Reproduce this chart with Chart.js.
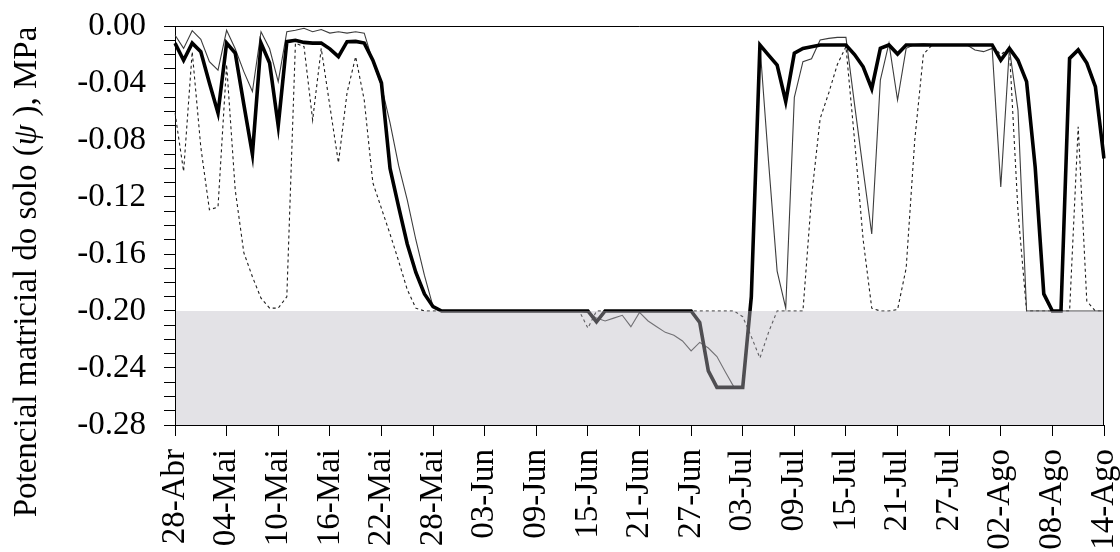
<!DOCTYPE html>
<html>
<head>
<meta charset="utf-8">
<script src="https://cdn.jsdelivr.net/npm/chart.js@4.4.1/dist/chart.umd.min.js"></script>
<style>
html,body{margin:0;padding:0;background:#fff;}
#wrap{width:1120px;height:552px;position:relative;}
</style>
</head>
<body>
<div id="wrap"><canvas id="c"></canvas></div>
<script>
// ── DATA ──
const MONTHS = ['Jan','Fev','Mar','Abr','Mai','Jun','Jul','Ago','Set','Out','Nov','Dez'];
const START = [2011, 3, 28];      // 28-Abr
const N_DAYS = 109;               // 28-Abr .. 14-Ago
const TICK_EVERY = 6;
const Y_LABELS = [0, -0.04, -0.08, -0.12, -0.16, -0.20, -0.24, -0.28];
const LIMIT = -0.20, Y_MIN = -0.28, Y_MAX = 0;

const days = [];
for (let i = 0; i < N_DAYS; i++) {
  const d = new Date(START[0], START[1], START[2] + i);
  days.push(String(d.getDate()).padStart(2,'0') + '-' + MONTHS[d.getMonth()]);
}

// thick line
const psiA = [
 -0.012,-0.024,-0.012,-0.018,-0.040,-0.061,-0.012,-0.019,-0.055,-0.090,
 -0.012,-0.026,-0.070,-0.011,-0.010,-0.0115,-0.012,-0.012,-0.016,-0.0215,
 -0.011,-0.0108,-0.012,-0.024,-0.040,-0.100,-0.127,-0.153,-0.173,-0.188,
 -0.197,-0.20,-0.20,-0.20,-0.20,-0.20,-0.20,-0.20,-0.20,-0.20,
 -0.20,-0.20,-0.20,-0.20,-0.20,-0.20,-0.20,-0.20,-0.20,-0.2076,
 -0.20,-0.20,-0.20,-0.20,-0.20,-0.20,-0.20,-0.20,-0.20,-0.20,
 -0.20,-0.208,-0.242,-0.2536,-0.2536,-0.2536,-0.2536,-0.19,-0.0133,-0.0204,
 -0.0274,-0.053,-0.019,-0.0157,-0.0145,-0.0133,-0.0133,-0.0133,-0.0133,-0.020,
 -0.0286,-0.044,-0.0157,-0.0133,-0.0197,-0.0133,-0.0133,-0.0133,-0.0133,-0.0133,
 -0.0133,-0.0133,-0.0133,-0.0133,-0.0133,-0.0133,-0.024,-0.0157,-0.024,-0.039,
 -0.099,-0.188,-0.20,-0.20,-0.0227,-0.0168,-0.026,-0.0426,-0.093
];
// thin solid line
const psiB = [
 -0.0063,-0.0157,-0.0033,-0.0094,-0.025,-0.031,-0.003,-0.016,-0.032,-0.046,
 -0.004,-0.016,-0.039,-0.004,-0.003,-0.0016,-0.004,-0.0025,-0.005,-0.004,
 -0.005,-0.004,-0.005,-0.025,-0.042,-0.068,-0.098,-0.122,-0.150,-0.175,
 -0.197,-0.20,-0.20,-0.20,-0.20,-0.20,-0.20,-0.20,-0.20,-0.20,
 -0.20,-0.20,-0.20,-0.20,-0.20,-0.20,-0.20,-0.20,-0.201,-0.205,
 -0.207,-0.205,-0.203,-0.211,-0.201,-0.207,-0.211,-0.215,-0.217,-0.221,
 -0.228,-0.222,-0.226,-0.232,-0.243,-0.2536,-0.2536,-0.19,-0.0133,-0.095,
 -0.172,-0.198,-0.050,-0.025,-0.023,-0.0098,-0.0087,-0.008,-0.008,-0.055,
 -0.101,-0.146,-0.038,-0.012,-0.052,-0.0157,-0.013,-0.0125,-0.013,-0.013,
 -0.013,-0.013,-0.013,-0.0168,-0.018,-0.0157,-0.113,-0.0157,-0.059,-0.20,
 -0.20,-0.20,-0.20,-0.20,-0.20,-0.20,-0.20,-0.20,-0.20
];
// dashed line
const psiC = [
 -0.061,-0.102,-0.018,-0.085,-0.129,-0.127,-0.027,-0.115,-0.159,-0.176,
 -0.191,-0.198,-0.198,-0.19,-0.012,-0.0145,-0.066,-0.0157,-0.056,-0.096,
 -0.047,-0.0215,-0.052,-0.110,-0.128,-0.146,-0.165,-0.185,-0.198,-0.20,
 -0.20,-0.20,-0.20,-0.20,-0.20,-0.20,-0.20,-0.20,-0.20,-0.20,
 -0.20,-0.20,-0.20,-0.20,-0.20,-0.20,-0.20,-0.20,-0.212,-0.20,
 -0.20,-0.20,-0.20,-0.20,-0.20,-0.20,-0.20,-0.20,-0.20,-0.20,
 -0.20,-0.20,-0.20,-0.20,-0.20,-0.20,-0.204,-0.218,-0.233,-0.215,
 -0.20,-0.20,-0.20,-0.20,-0.12,-0.065,-0.047,-0.027,-0.0145,-0.08,
 -0.15,-0.198,-0.20,-0.20,-0.199,-0.17,-0.08,-0.02,-0.0133,-0.0135,
 -0.0135,-0.0135,-0.0135,-0.0135,-0.0135,-0.0135,-0.02,-0.0157,-0.13,-0.20,
 -0.20,-0.20,-0.20,-0.20,-0.20,-0.0707,-0.193,-0.20,-0.20
];

const FONT = "'Liberation Serif', 'Times New Roman', serif";

// grey band below the limit, drawn over the lines (lines show through greyed)
const bandPlugin = {
  id: 'band',
  afterDatasetsDraw(chart) {
    const {ctx, chartArea: a, scales: {y}} = chart;
    const top = y.getPixelForValue(LIMIT), bot = y.getPixelForValue(Y_MIN);
    ctx.save();
    ctx.fillStyle = 'rgba(188,186,196,0.42)';
    ctx.fillRect(a.left + 1, top, a.right - a.left - 1, bot - top);
    ctx.restore();
  }
};

// top + right frame
const framePlugin = {
  id: 'frame',
  afterDraw(chart) {
    const {ctx, chartArea: a} = chart;
    ctx.save();
    ctx.strokeStyle = '#000'; ctx.lineWidth = 1;
    ctx.beginPath();
    ctx.moveTo(a.left, a.top + 0.5);
    ctx.lineTo(a.right - 0.5, a.top + 0.5);
    ctx.lineTo(a.right - 0.5, a.bottom);
    ctx.stroke();
    ctx.restore();
  }
};

// y title, centred on the page height
const titlePlugin = {
  id: 'ytitle',
  afterDraw(chart) {
    const ctx = chart.ctx;
    const parts = [['Potencial matricial do solo (', ''], ['\u03C8', 'italic '], [' ), MPa', '']];
    ctx.save();
    ctx.translate(36, 272);
    ctx.rotate(-Math.PI / 2);
    ctx.fillStyle = '#000';
    ctx.textBaseline = 'alphabetic';
    ctx.textAlign = 'left';
    let total = 0;
    parts.forEach(p => { ctx.font = p[1] + '33px ' + FONT; total += ctx.measureText(p[0]).width; });
    let x = -total / 2;
    parts.forEach(p => { ctx.font = p[1] + '33px ' + FONT; ctx.fillText(p[0], x, 0); x += ctx.measureText(p[0]).width; });
    ctx.restore();
  }
};

const line = (data, color, width, dash) => ({
  data, borderColor: color, borderWidth: width, borderDash: dash || [],
  pointRadius: 0, tension: 0, fill: false
});

const isLabelled = v => Y_LABELS.some(t => Math.abs(t - v) < 1e-6);

new Chart(document.getElementById('c'), {
  type: 'line',
  data: {
    labels: days,
    datasets: [
      line(psiA, '#000', 3.6),
      line(psiB, '#3c3c3c', 1.1),
      line(psiC, '#1e1e1e', 1.1, [3, 3])
    ]
  },
  options: {
    responsive: true, maintainAspectRatio: false, animation: false, devicePixelRatio: 1,
    layout: {padding: {top: 26, right: 16, left: 0, bottom: 0}},
    plugins: {legend: {display: false}, tooltip: {enabled: false}},
    scales: {
      x: {
        type: 'category', offset: false,
        border: {display: true, color: '#000', width: 1},
        grid: {drawOnChartArea: false, tickLength: 11, color: c => c.index % TICK_EVERY === 0 ? '#000' : 'rgba(0,0,0,0)'},
        ticks: {
          autoSkip: false, minRotation: 90, maxRotation: 90, padding: 13, color: '#000',
          font: {family: FONT, size: 33},
          callback: (v, i) => i % TICK_EVERY === 0 ? days[i] : ''
        },
        afterFit: s => { s.height = 127; s.paddingLeft = 0; s.paddingRight = 0; }
      },
      y: {
        min: Y_MIN, max: Y_MAX,
        border: {display: true, color: '#000', width: 1},
        grid: {drawOnChartArea: false, tickLength: 11, color: '#000'},
        ticks: {
          autoSkip: false, stepSize: 0.01, padding: 18, color: '#000',
          font: {family: FONT, size: 33},
          callback: v => isLabelled(v) ? (Math.abs(v) < 1e-9 ? '0.00' : v.toFixed(2)) : ''
        },
        afterFit: s => { s.width = 175; s.paddingTop = 0; s.paddingBottom = 0; }
      }
    }
  },
  plugins: [bandPlugin, framePlugin, titlePlugin]
});
</script>
</body>
</html>
